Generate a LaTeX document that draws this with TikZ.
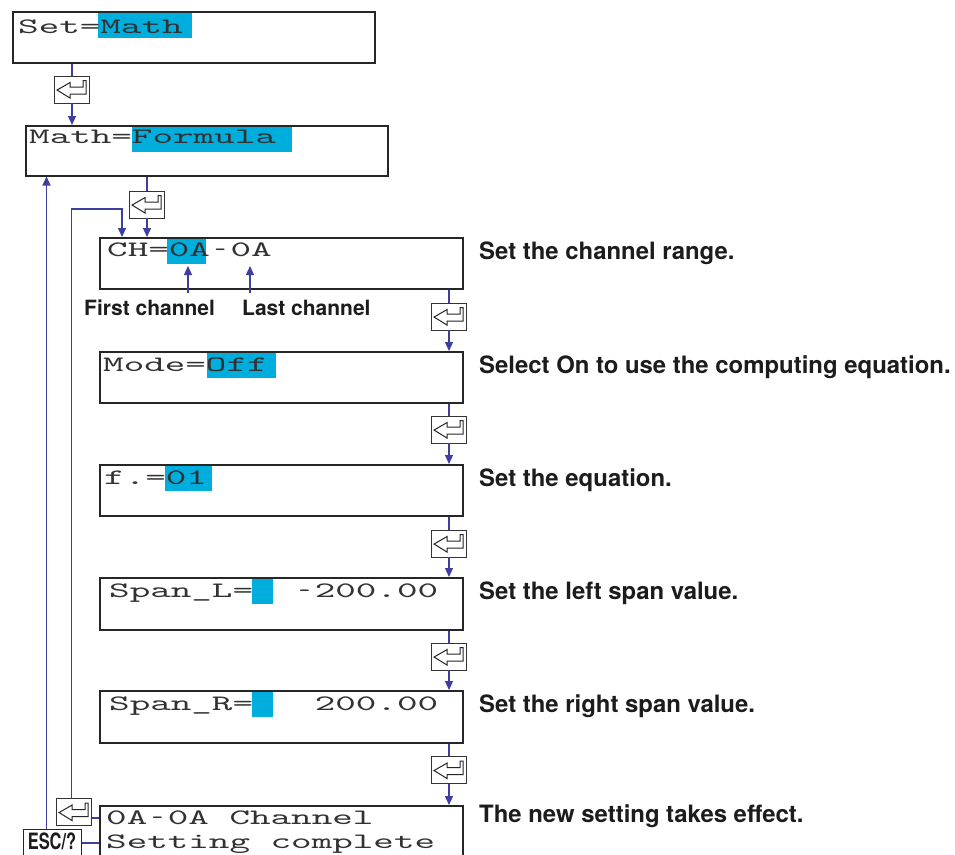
\documentclass[tikz,border=0pt]{standalone}
\usepackage{fontspec}
\setsansfont{TeX Gyre Heros}
\newfontfamily\lcdfont{lmmono10-regular.otf}[FakeStretch=1.78]
\usetikzlibrary{arrows.meta}
\definecolor{hl}{RGB}{0,174,222}
\definecolor{conn}{RGB}{62,62,160}
\definecolor{lcdtext}{RGB}{50,50,50}
\definecolor{lbl}{RGB}{28,28,28}
\newcommand\hy{\makebox[\fontcharwd\font`0][c]{\scalebox{0.55}[1]{-}}}
\newcommand\entkey[3]{%
  \node[keybox] (#1) at (#2,#3) {};
  \draw[keyarrow, shift={(#1.north west)}] (3,14.5) -- (16,7) -- (16,11.5) -- (29,11.5) -- (29,5)
    -- (32,5) -- (32,18.5) -- (16,18.5) -- (16,22.5) -- cycle;
}
\begin{document}
\begin{tikzpicture}[x=1pt,y=-1pt,
  lcdbox/.style={draw=black!85, line width=1.5pt, inner sep=0pt, anchor=north west, minimum width=363pt},
  keybox/.style={draw=black!80, line width=0.9pt, fill=white, inner sep=0pt, minimum width=35pt, minimum height=27pt},
  keyarrow/.style={draw=black!85, line width=1pt, line join=miter},
  lcd/.style={anchor=base west, inner sep=0pt, text=lcdtext, font=\lcdfont\fontsize{22}{24}\selectfont},
  lab/.style={anchor=base west, inner sep=0pt, text=lbl, font=\sffamily\bfseries\fontsize{23.9}{28}\selectfont},
  small/.style={anchor=base west, inner sep=0pt, text=lbl, font=\sffamily\bfseries\fontsize{21}{24}\selectfont},
  conn/.style={draw=conn, line width=1.2pt},
  arr/.style={-{Triangle[length=9pt,width=8pt]}}
]
\clip (0,0) rectangle (955,854);
\fill[white] (0,0) rectangle (955,854);

% highlights
\fill[hl] (98,12) rectangle (192,38);
\fill[hl] (132,126) rectangle (292,152);
\fill[hl] (167,238) rectangle (206,264);
\fill[hl] (207,352) rectangle (276,378);
\fill[hl] (165,465) rectangle (212,491);
\fill[hl] (252,578) rectangle (273,604);
\fill[hl] (252,691) rectangle (273,717);

% boxes
\node[lcdbox, minimum width=362pt, minimum height=51pt] (b1) at (12,11) {};
\node[lcdbox, minimum width=362pt, minimum height=50pt] (b2) at (25,125) {};
\node[lcdbox, minimum height=51pt] (b3) at (99,237) {};
\node[lcdbox, minimum height=51pt] (b4) at (99,351) {};
\node[lcdbox, minimum height=51pt] (b5) at (99,464) {};
\node[lcdbox, minimum height=52pt] (b6) at (99,577) {};
\node[lcdbox, minimum height=52pt] (b7) at (99,690) {};
\node[lcdbox, minimum height=90pt] (b8) at (99,805) {};

% box texts
\node[lcd] (t1) at (18,33) {Set=Math};
\node[lcd] (t2) at (29,143.5) {Math=Formula};
\node[lcd] (t3) at (107,256.5) {CH=0A\hy0A};
\node[lcd] (t4) at (103,371.5) {Mode=Off};
\node[lcd] (t5) at (104,484) {f.=01};
\node[lcd] (t6) at (109,597) {Span\_L=\phantom{00}\hy200.00};
\node[lcd] (t7) at (109,710) {Span\_R=\phantom{000}200.00};
\node[lcd] (t8a) at (106,824) {0A\hy0A\phantom{0}Channel};
\node[lcd] (t8b) at (106,848) {Setting\phantom{0}complete};

% right labels
\node[lab] (l3) at (479,259) {Set the channel range.};
\node[lab] (l4) at (479,373) {Select On to use the computing equation.};
\node[lab] (l5) at (479,486) {Set the equation.};
\node[lab] (l6) at (479,599) {Set the left span value.};
\node[lab] (l7) at (479,712) {Set the right span value.};
\node[lab] (l8) at (479,822) {The new setting takes effect.};

% channel labels
\node[small] (fc) at (84,315) {First channel};
\node[small] (lc) at (242,315) {Last channel};
\coordinate (fca) at (188,293);
\coordinate (lca) at (250,293);
\draw[conn,arr] (fca) -- (188,266);
\draw[conn,arr] (lca) -- (250,266);

% enter keys
\entkey{k1}{72}{89.5}
\entkey{k2}{147}{204.5}
\entkey{k3}{449}{316.5}
\entkey{k4}{449}{429.5}
\entkey{k5}{449}{543.5}
\entkey{k6}{449}{656.5}
\entkey{k7}{449}{770}
\entkey{k8}{74}{812}

% ESC key
\node[draw=black!85, line width=1.2pt, fill=white, inner sep=0pt, minimum width=58pt, minimum height=45pt,
      anchor=north west] (esc) at (23,829) {};
\node[anchor=base, inner sep=0pt, text=lbl, font=\sffamily\bfseries\fontsize{22.5}{28}\selectfont] (esct) at (52,849.5) {\scalebox{0.73}[1]{ESC/?}};

% connectors: main flow
\draw[conn] (k1.north |- b1.south) -- (k1.north);
\draw[conn,arr] (k1.south) -- (k1.south |- b2.north);
\draw[conn] (k2.north |- b2.south) -- (k2.north);
\draw[conn,arr] (k2.south) -- (k2.south |- b3.north);
\draw[conn] (k3.north |- b3.south) -- (k3.north);
\draw[conn,arr] (k3.south) -- (k3.south |- b4.north);
\draw[conn] (k4.north |- b4.south) -- (k4.north);
\draw[conn,arr] (k4.south) -- (k4.south |- b5.north);
\draw[conn] (k5.north |- b5.south) -- (k5.north);
\draw[conn,arr] (k5.south) -- (k5.south |- b6.north);
\draw[conn] (k6.north |- b6.south) -- (k6.north);
\draw[conn,arr] (k6.south) -- (k6.south |- b7.north);
\draw[conn] (k7.north |- b7.south) -- (k7.north);
\draw[conn,arr] (k7.south) -- (k7.south |- b8.north);

% loops back
\draw[conn] (k8.east |- 0,818) -- (b8.west |- 0,818);
\draw[conn] (esc.east |- 0,843) -- (b8.west |- 0,843);
\draw[conn,arr] (k8.north -| 71.3,0) -- (71.3,209) -| (b3.north -| 122,0);
\draw[conn,arr] (esc.north -| 46.5,0) -- (b2.south -| 46.5,0);
\end{tikzpicture}
\end{document}
